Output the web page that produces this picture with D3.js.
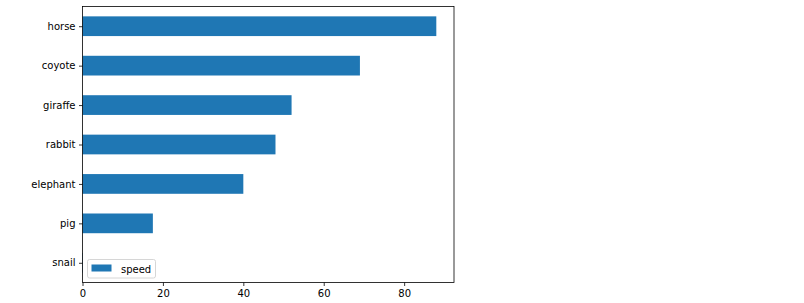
<!DOCTYPE html>
<html>
<head>
<meta charset="utf-8">
<script src="https://cdn.jsdelivr.net/npm/d3@7"></script>
<style>
  body { margin: 0; background: #fff; }
  text { font-family: "DejaVu Sans", sans-serif; }
</style>
</head>
<body>
<div id="chart"></div>
<script>
var animals = ['snail', 'pig', 'elephant', 'rabbit', 'giraffe', 'coyote', 'horse'];
var speed = [0.1, 17.5, 40, 48, 52, 69, 88];
var xTicks = [0, 20, 40, 60, 80];
var seriesName = 'speed';

var dims = {
    width: 804,
    height: 303,
    left: 82.5,
    right: 454,
    top: 6.5,
    bottom: 282.5,
    color: '#1f77b4'
};

var svg = d3.select('#chart')
    .append('svg')
    .attr('width', dims.width)
    .attr('height', dims.height);

var x = d3.scaleLinear()
    .domain([0, d3.max(speed) * 1.05])
    .range([dims.left, dims.right]);

// categories go bottom-up like matplotlib barh
var y = d3.scaleLinear()
    .domain([-0.5, animals.length - 0.5])
    .range([dims.bottom, dims.top]);

var barH = y(0) - y(0.5);

svg.append('g')
    .selectAll('rect')
    .data(speed)
    .enter()
    .append('rect')
    .attr('x', x(0))
    .attr('y', function(d, i){ return y(i) - barH / 2; })
    .attr('width', function(d){ return x(d) - x(0); })
    .attr('height', barH)
    .attr('fill', dims.color);

var xAxis = svg.append('g')
    .attr('transform', 'translate(0,' + dims.bottom + ')')
    .call(d3.axisBottom(x).tickValues(xTicks).tickSize(3.5).tickPadding(3.5).tickFormat(d3.format('d')));

var yAxis = svg.append('g')
    .attr('transform', 'translate(' + dims.left + ',0)')
    .call(d3.axisLeft(y)
        .tickValues(d3.range(animals.length))
        .tickSize(3.5)
        .tickPadding(3.5)
        .tickFormat(function(d){ return animals[d]; }));

[xAxis, yAxis].forEach(function(ax){
    ax.select('.domain').remove();
    ax.selectAll('text').attr('font-size', 10).attr('font-family', '"DejaVu Sans", sans-serif').attr('fill', '#000');
    ax.selectAll('line').attr('stroke', '#000').attr('stroke-width', 0.8);
});

// frame
svg.append('rect')
    .attr('x', dims.left)
    .attr('y', dims.top)
    .attr('width', dims.right - dims.left)
    .attr('height', dims.bottom - dims.top)
    .attr('fill', 'none')
    .attr('stroke', '#000')
    .attr('stroke-width', 0.8);

// legend, lower left
var legend = svg.append('g')
    .attr('transform', 'translate(87.5,259.5)');

legend.append('rect')
    .attr('width', 68)
    .attr('height', 18.5)
    .attr('rx', 2)
    .attr('fill', '#fff')
    .attr('fill-opacity', 0.8)
    .attr('stroke', '#ccc')
    .attr('stroke-width', 0.8);

legend.append('rect')
    .attr('x', 4)
    .attr('y', 5)
    .attr('width', 20)
    .attr('height', 7)
    .attr('fill', dims.color);

legend.append('text')
    .attr('x', 33.5)
    .attr('y', 13)
    .attr('font-size', 10)
    .text(seriesName);
</script>
</body>
</html>
